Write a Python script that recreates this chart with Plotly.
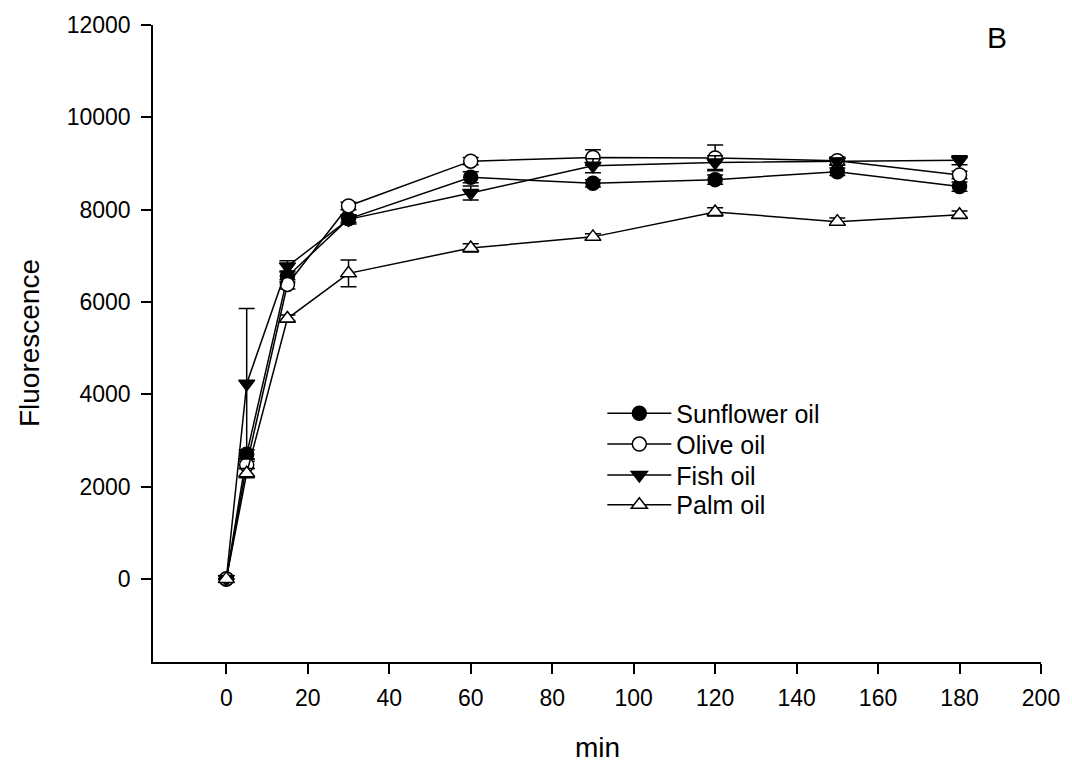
import plotly.graph_objects as go

time = [0, 5, 15, 30, 60, 90, 120, 150, 180]
sunflower = [0, 2700, 6550, 7800, 8700, 8570, 8650, 8820, 8500]
sunflower_err = [0, 100, 120, 80, 120, 80, 100, 80, 100]
olive = [0, 2470, 6380, 8080, 9050, 9130, 9120, 9060, 8750]
olive_err = [0, 80, 100, 80, 80, 170, 280, 80, 80]
fish = [0, 4230, 6770, 7790, 8360, 8950, 9020, 9040, 9070]
fish_err = [0, 1630, 120, 100, 150, 150, 150, 80, 100]
palm = [0, 2290, 5640, 6620, 7170, 7410, 7950, 7740, 7890]
palm_err = [0, 100, 80, 290, 90, 70, 90, 80, 80]

x_ticks = [0, 20, 40, 60, 80, 100, 120, 140, 160, 180, 200]
y_ticks = [0, 2000, 4000, 6000, 8000, 10000, 12000]
y_ticktext = ["0", "2000", "4000", "6000", "8000", "10000", "12000"]

FONT = "Arial, Liberation Sans, sans-serif"

series = [
    ("Sunflower oil", sunflower, sunflower_err, "circle", "black"),
    ("Olive oil", olive, olive_err, "circle", "white"),
    ("Fish oil", fish, fish_err, "triangle-down", "black"),
    ("Palm oil", palm, palm_err, "triangle-up", "white"),
]
legend_ids = ["legend", "legend2", "legend3", "legend4"]
legend_y = [0.390, 0.3417, 0.2933, 0.2465]

fig = go.Figure()
for (name, vals, err, sym, fill), lid in zip(series, legend_ids):
    fig.add_trace(go.Scatter(
        x=time, y=vals, name=name, mode="lines+markers", legend=lid,
        line=dict(color="black", width=1.5),
        marker=dict(symbol=sym, size=14, color=fill,
                    line=dict(color="black", width=1.5)),
        error_y=dict(type="data", array=err, visible=True,
                     color="black", thickness=1.5, width=8),
    ))

legend_common = dict(xanchor="left", yanchor="middle",
                     font=dict(size=25, family=FONT, color="black"),
                     itemwidth=64, bgcolor="rgba(0,0,0,0)", borderwidth=0)
legends = {}
for lid, ly in zip(legend_ids, legend_y):
    legends[lid] = dict(x=0.506, y=ly, **legend_common)

fig.update_layout(
    width=1072, height=772,
    margin=dict(l=153, r=26, t=21, b=110),
    plot_bgcolor="white", paper_bgcolor="white",
    font=dict(family=FONT, color="black"),
    showlegend=True,
    xaxis=dict(range=[-18, 200], tickvals=x_ticks, showgrid=False,
               zeroline=False, showline=True, linecolor="black", linewidth=1.5,
               ticks="outside", ticklen=10, tickwidth=1.5, tickcolor="black",
               ticklabelstandoff=5,
               tickfont=dict(size=23, family=FONT, color="black")),
    yaxis=dict(range=[-1800, 12000], tickvals=y_ticks, ticktext=y_ticktext,
               showgrid=False,
               zeroline=False, showline=True, linecolor="black", linewidth=1.5,
               ticks="outside", ticklen=10, tickwidth=1.5, tickcolor="black",
               ticklabelstandoff=6,
               tickfont=dict(size=23, family=FONT, color="black")),
    annotations=[
        dict(text="min", xref="paper", yref="paper", x=0.5, y=-0.135,
             xanchor="center", yanchor="middle", showarrow=False,
             font=dict(size=28, family=FONT, color="black")),
        dict(text="Fluorescence", xref="paper", yref="paper", x=-0.139, y=0.5,
             xanchor="center", yanchor="middle", showarrow=False, textangle=-90,
             font=dict(size=28, family=FONT, color="black")),
        dict(text="B", xref="paper", yref="paper", x=0.95, y=0.98,
             xanchor="center", yanchor="middle", showarrow=False,
             font=dict(size=30, family=FONT, color="black")),
    ],
    **legends,
)

fig.write_html(
    "out.html",
    config={"displayModeBar": False},
    post_script="document.body.style.margin='0';document.body.style.overflow='hidden';",
)
